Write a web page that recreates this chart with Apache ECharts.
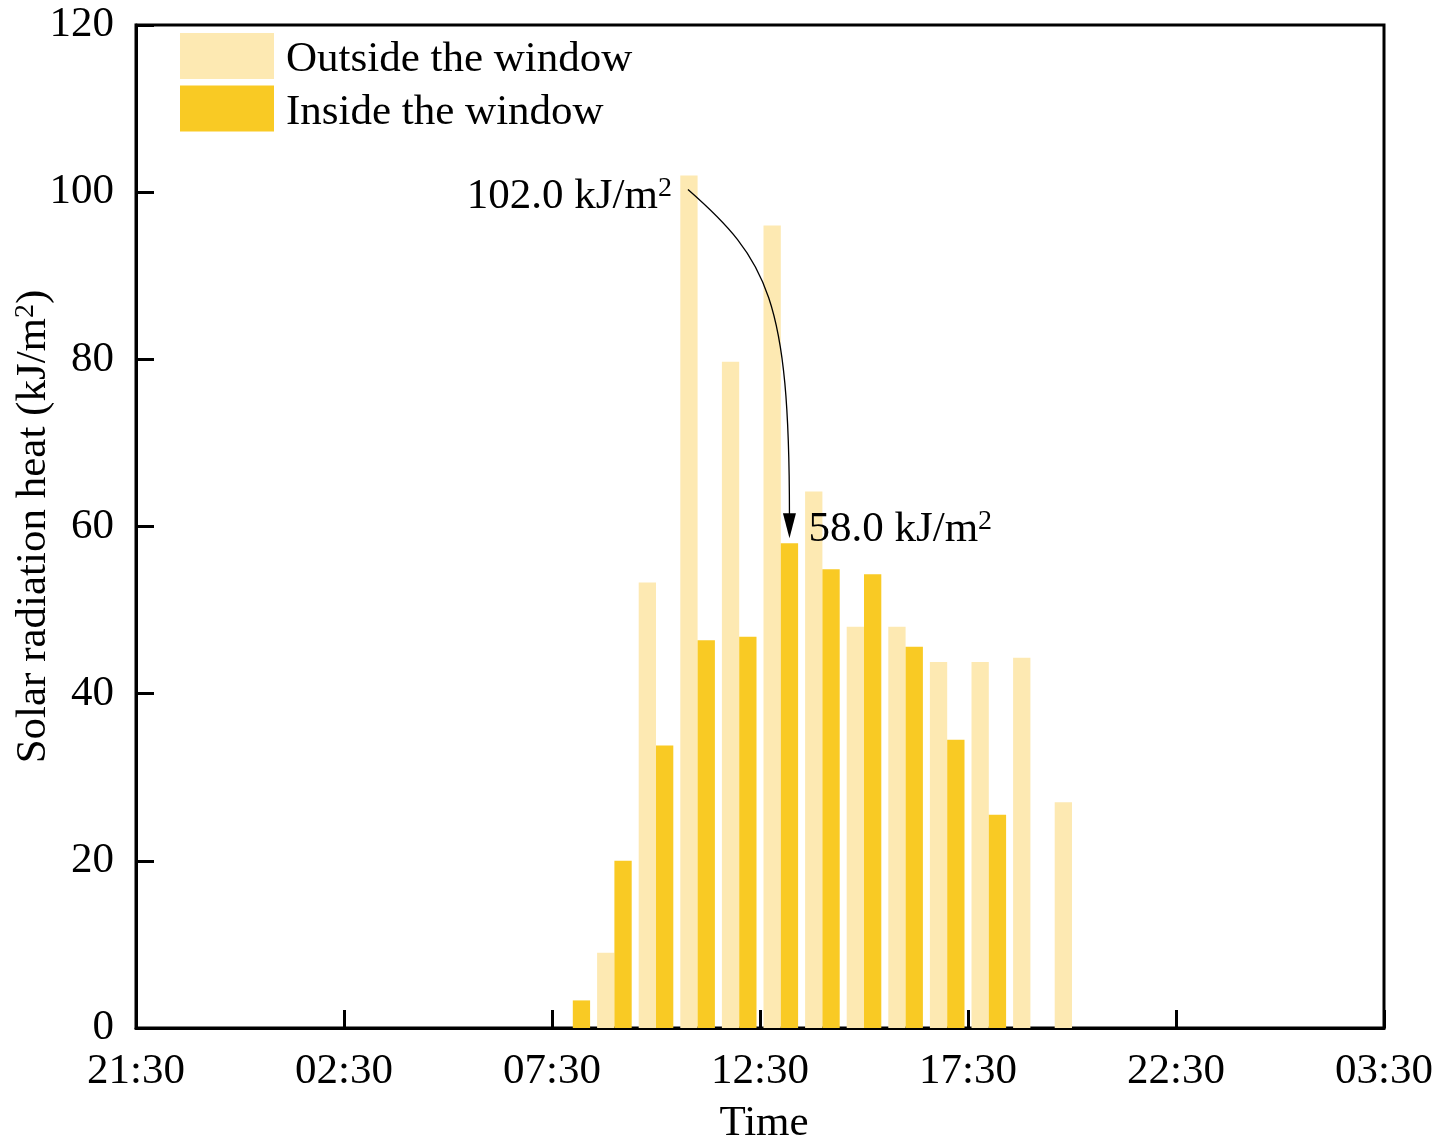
<!DOCTYPE html>
<html>
<head>
<meta charset="utf-8">
<script src="https://cdn.jsdelivr.net/npm/echarts@6/dist/echarts.min.js"></script>
<style>
  html, body { margin: 0; padding: 0; background: #fff; }
  #chart { width: 1444px; height: 1142px; }
</style>
</head>
<body>
<div id="chart"></div>
<script>
// ---- data ----
const times = ['08:00','09:00','10:00','11:00','12:00','13:00','14:00','15:00','16:00','17:00','18:00','19:00','20:00'];
const outsideValues = [null, 9.0, 53.3, 102.0, 79.7, 96.0, 64.2, 48.0, 48.0, 43.8, 43.8, 44.3, 27.0];
const insideValues  = [3.3, 20.0, 33.8, 46.4, 46.8, 58.0, 54.9, 54.3, 45.6, 34.5, 25.5, null, null];
const xTickLabels = ['21:30','02:30','07:30','12:30','17:30','22:30','03:30'];
const yTicks = [0, 20, 40, 60, 80, 100, 120];
const seriesNames = ['Outside the window', 'Inside the window'];

// ---- helpers ----
const axisStartHour = 21.5;
function toAxisHours(t) {
  const [h, m] = t.split(':').map(Number);
  return ((h + m / 60 - axisStartHour) % 24 + 24) % 24;
}
const xs = times.map(toAxisHours);
const outsideData = xs.map((x, i) => outsideValues[i] == null ? [x, '-'] : [x, outsideValues[i]]);
const insideData = xs.map((x, i) => insideValues[i] == null ? [x, '-'] : [x, insideValues[i]]);

const FONT = "'Liberation Serif', 'Times New Roman', serif";
const FS = 43;
const SUP = 28;
const BAR_W = 17.3;
const C_OUT = '#FDE9B2';
const C_IN = '#F9CA24';

const chart = echarts.init(document.getElementById('chart'), null, { renderer: 'canvas' });

const supRich = {
  a: { fontFamily: FONT, fontSize: FS, color: '#000' },
  s: { fontFamily: FONT, fontSize: SUP, color: '#000', verticalAlign: 'top', padding: [0, 0, 6, 0] }
};

const option = {
  animation: false,
  backgroundColor: '#fff',
  textStyle: { fontFamily: FONT, color: '#000' },
  grid: {
    left: 136, right: 60, top: 25, bottom: 114,
    outerBoundsMode: 'none', containLabel: false,
    show: true, borderColor: '#000', borderWidth: 3, backgroundColor: 'transparent'
  },
  legend: {
    left: 180, top: 33, orient: 'vertical', padding: 0,
    itemWidth: 94, itemHeight: 46, itemGap: 4,
    icon: 'rect',
    formatter: n => '{t|' + n + '}',
    textStyle: {
      fontFamily: FONT, fontSize: FS, color: '#000',
      rich: { t: { fontFamily: FONT, fontSize: FS, color: '#000', padding: [8, 0, 0, 7] } }
    },
    data: seriesNames
  },
  xAxis: {
    type: 'value', min: 0, max: 30, interval: 5,
    name: 'Time', nameLocation: 'middle', nameGap: 74,
    nameTextStyle: { fontFamily: FONT, fontSize: FS, color: '#000', padding: [0, 0, 0, 8] },
    axisLine: { show: true, lineStyle: { color: '#000', width: 3 } },
    axisTick: { show: true, inside: true, length: 18, lineStyle: { color: '#000', width: 3 } },
    axisLabel: {
      fontFamily: FONT, fontSize: FS, color: '#000', margin: 22,
      formatter: v => xTickLabels[Math.round(v / 5)] || ''
    },
    splitLine: { show: false }
  },
  yAxis: {
    type: 'value', min: yTicks[0], max: yTicks[yTicks.length - 1], interval: 20,
    name: '{a|Solar radiation heat (kJ/m}{s|2}{a|)}',
    nameLocation: 'middle', nameGap: 81, nameMoveOverlap: false,
    nameTextStyle: { fontFamily: FONT, fontSize: FS, color: '#000', rich: supRich },
    axisLine: { show: true, lineStyle: { color: '#000', width: 3 } },
    axisTick: { show: true, inside: true, length: 18, lineStyle: { color: '#000', width: 3 } },
    axisLabel: { fontFamily: FONT, fontSize: FS, color: '#000', margin: 22 },
    splitLine: { show: false }
  },
  series: [
    {
      name: seriesNames[0], type: 'bar', data: outsideData,
      barWidth: BAR_W, barGap: '0%',
      itemStyle: { color: C_OUT }
    },
    {
      name: seriesNames[1], type: 'bar', data: insideData,
      barWidth: BAR_W, barGap: '0%',
      itemStyle: { color: C_IN }
    }
  ]
};
chart.setOption(option);

// ---- annotations (anchored to data through the axes) ----
function maxIndex(arr) {
  let best = -1;
  arr.forEach((v, i) => { if (v != null && (best < 0 || v > arr[best])) best = i; });
  return best;
}
const iOut = maxIndex(outsideValues);
const iIn = maxIndex(insideValues);
const pOut = chart.convertToPixel({ gridIndex: 0 }, [xs[iOut], outsideValues[iOut]]);
const pIn = chart.convertToPixel({ gridIndex: 0 }, [xs[iIn], insideValues[iIn]]);
// bar centres (outside is left half, inside right half of each pair)
const A = [pOut[0] - BAR_W / 2, pOut[1]];
const B = [pIn[0] + BAR_W / 2, pIn[1]];

const start = [A[0] - 1, A[1] + 14];
const tip = [B[0], B[1] - 5];
const headLen = 25, headHalf = 6.5;
const end = [tip[0], tip[1] - headLen + 2];

chart.setOption({
  graphic: [
    {
      type: 'text', z: 100,
      style: {
        x: A[0] - 17, y: A[1] + 21,
        text: '{a|' + outsideValues[iOut].toFixed(1) + ' kJ/m}{s|2}',
        rich: supRich, align: 'right', verticalAlign: 'middle',
        font: FS + 'px ' + FONT, fill: '#000'
      }
    },
    {
      type: 'text', z: 100,
      style: {
        x: B[0] + 19, y: B[1] - 14,
        text: '{a|' + insideValues[iIn].toFixed(1) + ' kJ/m}{s|2}',
        rich: supRich, align: 'left', verticalAlign: 'middle',
        font: FS + 'px ' + FONT, fill: '#000'
      }
    },
    {
      type: 'bezierCurve', z: 100,
      shape: {
        x1: start[0], y1: start[1],
        cpx1: start[0] + 80, cpy1: start[1] + 70,
        cpx2: end[0], cpy2: start[1] + 110,
        x2: end[0], y2: end[1]
      },
      style: { stroke: '#000', lineWidth: 1.3, fill: null }
    },
    {
      type: 'polygon', z: 100,
      shape: { points: [[tip[0] - headHalf, tip[1] - headLen], [tip[0] + headHalf, tip[1] - headLen], [tip[0], tip[1]]] },
      style: { fill: '#000' }
    }
  ]
});
</script>
</body>
</html>
